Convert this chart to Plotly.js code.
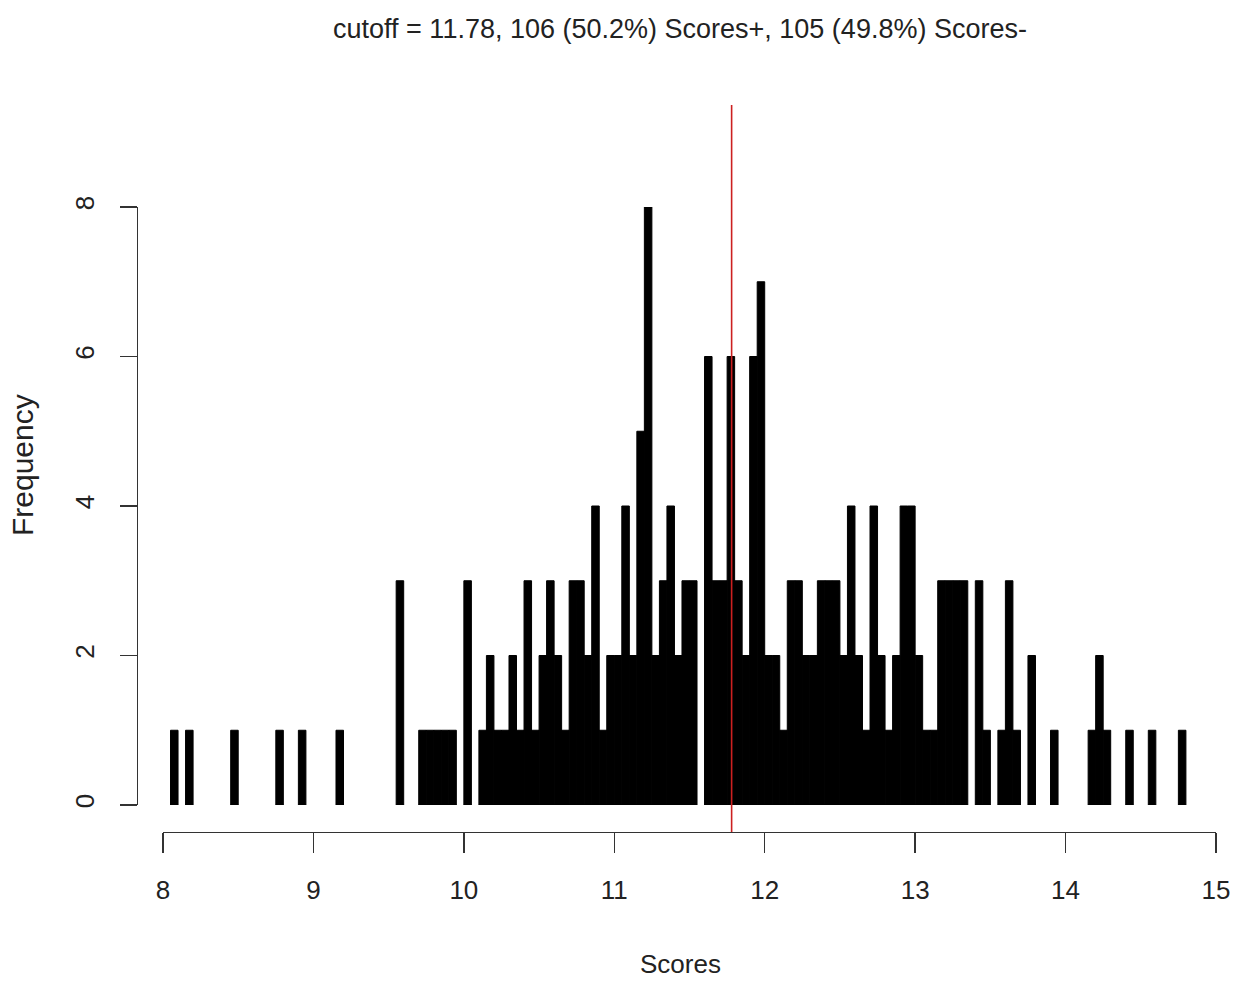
<!DOCTYPE html>
<html>
<head>
<meta charset="utf-8">
<script src="https://cdn.plot.ly/plotly-3.0.1.min.js"></script>
<style>html,body{margin:0;padding:0;background:#fff;}#chart{width:1240px;height:981px;}</style>
</head>
<body>
<div id="chart"></div>
<script>
// Histogram bins (left edge of each non-empty bin) and counts
var binWidth = 0.05;
var binLeft = [8.05, 8.15, 8.45, 8.75, 8.90, 9.15, 9.55, 9.70, 9.75, 9.80, 9.85, 9.90,
  10.00, 10.10, 10.15, 10.20, 10.25, 10.30, 10.35, 10.40, 10.45, 10.50, 10.55, 10.60, 10.65,
  10.70, 10.75, 10.80, 10.85, 10.90, 10.95, 11.00, 11.05, 11.10, 11.15, 11.20, 11.25, 11.30,
  11.35, 11.40, 11.45, 11.50, 11.60, 11.65, 11.70, 11.75, 11.80, 11.85, 11.90, 11.95,
  12.00, 12.05, 12.10, 12.15, 12.20, 12.25, 12.30, 12.35, 12.40, 12.45, 12.50, 12.55, 12.60,
  12.65, 12.70, 12.75, 12.80, 12.85, 12.90, 12.95, 13.00, 13.05, 13.10, 13.15, 13.20, 13.25,
  13.30, 13.40, 13.45, 13.55, 13.60, 13.65, 13.75, 13.90, 14.15, 14.20, 14.25, 14.40, 14.55, 14.75];
var counts = [1, 1, 1, 1, 1, 1, 3, 1, 1, 1, 1, 1,
  3, 1, 2, 1, 1, 2, 1, 3, 1, 2, 3, 2, 1,
  3, 3, 2, 4, 1, 2, 2, 4, 2, 5, 8, 2, 3,
  4, 2, 3, 3, 6, 3, 3, 6, 3, 2, 6, 7,
  2, 2, 1, 3, 3, 2, 2, 3, 3, 3, 2, 4, 2,
  1, 4, 2, 1, 2, 4, 4, 2, 1, 1, 3, 3, 3,
  3, 3, 1, 1, 3, 1, 2, 1, 1, 2, 1, 1, 1, 1];
var cutoff = 11.78;
var titleText = "cutoff = 11.78, 106 (50.2%) Scores+, 105 (49.8%) Scores-";
var xTicks = [8, 9, 10, 11, 12, 13, 14, 15];
var yTicks = [0, 2, 4, 6, 8];

var font = "Liberation Sans, Arial, sans-serif";
var W = 1240, H = 981;
var mL = 137, mR = 24, mT = 105, mB = 149;
var pw = W - mL - mR, ph = H - mT - mB;

var trace = {
  type: 'bar',
  x: binLeft,
  y: counts,
  width: binWidth,
  offset: 0,
  marker: {color: '#000000', line: {color: '#000000', width: 1}},
  hoverinfo: 'x+y'
};

var layout = {
  width: W, height: H,
  margin: {l: mL, r: mR, t: mT, b: mB, pad: 0},
  paper_bgcolor: '#ffffff', plot_bgcolor: 'rgba(0,0,0,0)',
  showlegend: false,
  bargap: 0,
  font: {family: font, color: '#222222'},
  title: {text: titleText, font: {family: font, size: 27, color: '#222222'},
          x: 680 / W, xanchor: 'center', xref: 'container', y: 1 - 29 / H, yanchor: 'middle', yref: 'container'},
  xaxis: {
    range: [8, 15], domain: [(163 - mL) / pw, 1],
    anchor: 'free', position: 0,
    tickvals: xTicks, ticktext: xTicks.map(String),
    ticks: 'outside', ticklen: 20, tickwidth: 1.3, tickcolor: '#333333',
    showline: true, linecolor: '#333333', linewidth: 1.3,
    showgrid: false, zeroline: false,
    tickfont: {family: font, size: 26, color: '#222222'},
    ticklabelstandoff: 14
  },
  yaxis: {
    range: [0, 8], domain: [(H - mB - 805) / ph, (H - mB - 207) / ph],
    anchor: 'free', position: 0,
    tickvals: yTicks, ticktext: yTicks.map(String),
    ticks: 'outside', ticklen: 17, tickwidth: 1.3, tickcolor: '#333333',
    showline: true, linecolor: '#333333', linewidth: 1.3,
    showgrid: false, zeroline: false, tickangle: -90,
    tickfont: {family: font, size: 26, color: '#222222'},
    ticklabelstandoff: 16
  },
  shapes: [{
    type: 'line', xref: 'x', yref: 'paper',
    x0: cutoff, x1: cutoff, y0: 0, y1: 1,
    line: {color: '#cc2020', width: 1.6}
  }],
  annotations: [
    {text: 'Scores', xref: 'paper', yref: 'paper', x: (680 - mL) / pw, y: (H - mB - 964) / ph,
     xanchor: 'center', yanchor: 'middle', showarrow: false, font: {family: font, size: 26, color: '#222222'}},
    {text: 'Frequency', xref: 'paper', yref: 'paper', x: (22 - mL) / pw, y: (H - mB - 465) / ph,
     xanchor: 'center', yanchor: 'middle', textangle: -90, showarrow: false, font: {family: font, size: 30, color: '#222222'}}
  ]
};

Plotly.newPlot('chart', [trace], layout, {displayModeBar: false, staticPlot: true});
</script>
</body>
</html>
